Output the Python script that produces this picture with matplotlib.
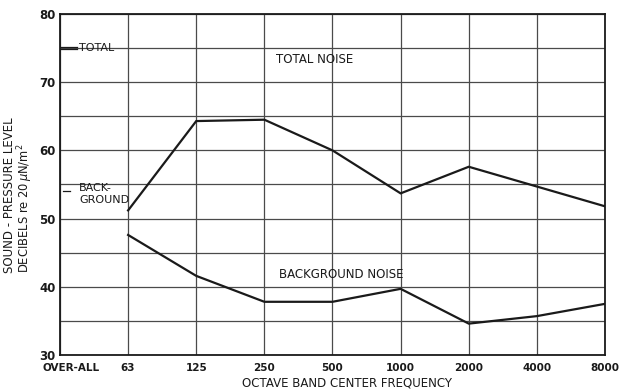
import numpy as np
import matplotlib
matplotlib.use("Agg")
import matplotlib.pyplot as plt
import matplotlib.transforms as mtransforms

# octave band levels, dB re 20 uN/m^2
bands = ["OVER-ALL", "63", "125", "250", "500", "1000", "2000", "4000", "8000"]
total_noise = [51.2, 64.3, 64.5, 60.0, 53.7, 57.6, 54.7, 51.8]
background_noise = [47.6, 41.6, 37.8, 37.8, 39.7, 34.6, 35.7, 37.5]
overall_total = 75.0
overall_background = 54.0

ink = "#1a1a1a"
grid_col = "#4a4a4a"

fig = plt.figure(figsize=(6.19, 3.91), dpi=100)
ax = fig.add_axes([0.0969, 0.0921, 0.8805, 0.8721])

x = np.arange(1, len(bands))
ax.plot(x, total_noise, color=ink, lw=1.6, solid_joinstyle="miter")
ax.plot(x, background_noise, color=ink, lw=1.6, solid_joinstyle="miter")

# over-all levels as short markers on the left axis
ax.plot([0, 0.25], [overall_total - 0.15, overall_total - 0.15], color=ink, lw=0.9)
ax.plot([0, 0.25], [overall_total + 0.15, overall_total + 0.15], color=ink, lw=0.9)
ax.text(0.28, overall_total, "TOTAL", fontsize=8, ha="left", va="center", color=ink)
ax.plot([0.05, 0.15], [overall_background, overall_background], color=ink, lw=0.9)
ax.text(0.28, overall_background - 0.4, "BACK-\nGROUND", fontsize=8, ha="left", va="center",
        color=ink, linespacing=1.15)

ax.text(3.74, 73.4, "TOTAL NOISE", fontsize=8.5, ha="center", va="center", color=ink)
ax.text(4.13, 41.8, "BACKGROUND NOISE", fontsize=8.5, ha="center", va="center", color=ink)

ax.set_xlim(0, len(bands) - 1)
ax.set_ylim(30, 80)
ax.set_xticks(np.arange(len(bands)))
ax.set_xticklabels(bands, fontsize=7.5, fontweight="bold")
ax.set_yticks(np.arange(30, 81, 5), minor=False)
ax.set_yticklabels(["30", "", "40", "", "50", "", "60", "", "70", "", "80"],
                   fontsize=8.5, fontweight="bold")
ax.tick_params(axis="x", length=0, pad=6, colors=ink)
ax.tick_params(axis="y", length=0, pad=3, colors=ink)
ax.grid(True, color=grid_col, lw=0.9)
ax.set_axisbelow(True)
for s in ax.spines.values():
    s.set_color(ink)
    s.set_linewidth(1.3)

# shift the OVER-ALL label right of the spine
lbl = ax.get_xticklabels()[0]
lbl.set_transform(lbl.get_transform() + mtransforms.ScaledTranslation(11 / 100, 0, fig.dpi_scale_trans))

fig.text(0.016, 0.302, "SOUND - PRESSURE LEVEL", rotation=90, fontsize=8.5,
         ha="center", va="bottom", color=ink)
fig.text(0.040, 0.302, r"DECIBELS re 20$\,\mu$N/m$^2$", rotation=90, fontsize=8.3,
         ha="center", va="bottom", color=ink)
fig.text(0.56, 0.02, "OCTAVE BAND CENTER FREQUENCY", fontsize=8.5, ha="center",
         va="center", color=ink)

fig.savefig("out.png", dpi=100, facecolor="white")
